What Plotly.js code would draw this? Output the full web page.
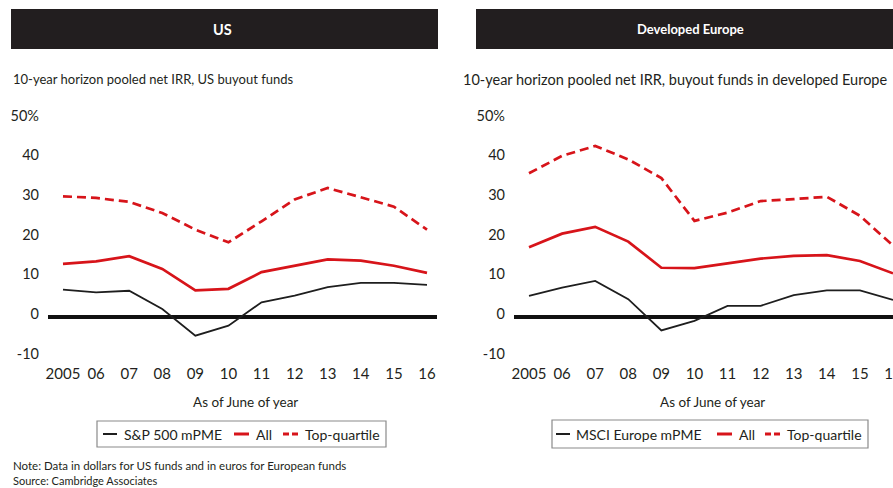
<!DOCTYPE html>
<html>
<head>
<meta charset="utf-8">
<script src="https://cdn.plot.ly/plotly-3.0.1.min.js"></script>
<style>
  html, body { margin: 0; padding: 0; overflow: hidden; background: #fff; }
  #chart { width: 915px; height: 488px; }
</style>
</head>
<body>
<div id="chart"></div>
<script>
// ---- data ----
const years = [2005, 2006, 2007, 2008, 2009, 2010, 2011, 2012, 2013, 2014, 2015, 2016];
const yearLabels = ["2005", "06", "07", "08", "09", "10", "11", "12", "13", "14", "15", "16"];
const yTickVals = [-10, 0, 10, 20, 30, 40, 50];
const yTickText = ["-10", "0", "10", "20", "30", "40", "50%"];

const usMpme = [6.9, 6.2, 6.6, 2.0, -4.7, -2.2, 3.7, 5.4, 7.5, 8.6, 8.6, 8.1];
const usAll  = [13.4, 14.0, 15.3, 12.1, 6.7, 7.1, 11.3, 12.9, 14.5, 14.2, 12.9, 11.1];
const usTop  = [30.4, 30.0, 29.0, 26.2, 22.0, 18.8, 24.1, 29.6, 32.5, 30.1, 27.8, 22.0];

const euMpme = [5.3, 7.4, 9.1, 4.5, -3.4, -1.0, 2.8, 2.8, 5.5, 6.7, 6.7, 4.3];
const euAll  = [17.6, 21.0, 22.7, 19.0, 12.4, 12.3, 13.5, 14.7, 15.4, 15.6, 14.1, 11.0];
const euTop  = [36.2, 40.6, 43.1, 39.7, 35.0, 24.2, 26.3, 29.2, 29.7, 30.3, 25.5, 18.0];

const usSeriesNames = ["S&P 500 mPME", "All", "Top-quartile"];
const euSeriesNames = ["MSCI Europe mPME", "All", "Top-quartile"];

// ---- styling ----
const W = 915, H = 488;
const FONT = "Lato, 'Open Sans', sans-serif";
const INK = "#231f20";
const RED = "#d7141a";
const px = x => x / W;
const py = y => 1 - y / H;

function seriesTraces(xa, ya, mpme, all, top, names) {
  return [
    { x: years, y: mpme, name: names[0], type: "scatter", mode: "lines",
      line: { color: "#1e1e1e", width: 1.8 }, xaxis: xa, yaxis: ya, showlegend: false },
    { x: years, y: all, name: names[1], type: "scatter", mode: "lines",
      line: { color: RED, width: 2.7 }, xaxis: xa, yaxis: ya, showlegend: false },
    { x: years, y: top, name: names[2], type: "scatter", mode: "lines",
      line: { color: RED, width: 2.7, dash: "9px,5px" }, xaxis: xa, yaxis: ya, showlegend: false }
  ];
}

const data = [
  ...seriesTraces("x", "y", usMpme, usAll, usTop, usSeriesNames),
  ...seriesTraces("x2", "y2", euMpme, euAll, euTop, euSeriesNames)
];

const xRange = [2004.547, 2016.302];
const yRange = [-12, 52];
const yDomain = [py(364.6), py(110.6)];

function xAxis(domain, anchor) {
  return {
    domain: domain, range: xRange, anchor: anchor,
    tickvals: years, ticktext: yearLabels,
    showgrid: false, zeroline: false, showline: false, ticks: "",
    ticklabelstandoff: -2,
    tickfont: { family: FONT, size: 15, color: INK }, fixedrange: true
  };
}
function yAxis(anchor) {
  return {
    domain: yDomain, range: yRange, anchor: anchor,
    tickvals: yTickVals, ticktext: yTickText,
    showgrid: false, showline: false, ticks: "",
    zeroline: true, zerolinecolor: "#111", zerolinewidth: 3.5,
    ticklabelstandoff: 8, ticklabelshift: -3,
    tickfont: { family: FONT, size: 14.5, color: INK }, fixedrange: true
  };
}

function legendShapes(box, sym) {
  return [
    { type: "rect", xref: "paper", yref: "paper", x0: px(box[0]), x1: px(box[1]), y0: py(box[3]), y1: py(box[2]),
      line: { color: "#8a8a8a", width: 1.2 }, fillcolor: "rgba(0,0,0,0)" },
    { type: "line", xref: "paper", yref: "paper", x0: px(sym[0]), x1: px(sym[0] + 14), y0: py(434), y1: py(434),
      line: { color: "#1e1e1e", width: 2 } },
    { type: "line", xref: "paper", yref: "paper", x0: px(sym[1]), x1: px(sym[1] + 15), y0: py(434), y1: py(434),
      line: { color: RED, width: 3 } },
    { type: "line", xref: "paper", yref: "paper", x0: px(sym[2]), x1: px(sym[2] + 15), y0: py(434), y1: py(434),
      line: { color: RED, width: 3, dash: "6px,3px" } }
  ];
}

function legendText(names, xs) {
  return names.map((n, i) => ({
    text: n.replace("&", "&amp;"), xref: "paper", yref: "paper", x: px(xs[i]), y: py(434.5),
    xanchor: "left", yanchor: "middle", showarrow: false,
    font: { family: FONT, size: 14, color: INK }
  }));
}

const shapes = [
  { type: "rect", xref: "paper", yref: "paper", x0: px(11), x1: px(438), y0: py(49), y1: py(9),
    fillcolor: "#221e1f", line: { width: 0 } },
  { type: "rect", xref: "paper", yref: "paper", x0: px(476), x1: px(915), y0: py(49), y1: py(9),
    fillcolor: "#221e1f", line: { width: 0 } },
  ...legendShapes([97, 386, 421, 447], [103, 234, 283]),
  ...legendShapes([552, 868, 420, 448], [556, 717, 765])
];

const annotations = [
  { text: "<b>US</b>", xref: "paper", yref: "paper", x: px(222), y: py(29), showarrow: false,
    xanchor: "center", yanchor: "middle", font: { family: FONT, size: 14.5, color: "#ffffff" } },
  { text: "<b>Developed Europe</b>", xref: "paper", yref: "paper", x: px(690), y: py(29), showarrow: false,
    xanchor: "center", yanchor: "middle", font: { family: FONT, size: 13, color: "#ffffff" } },
  { text: "10-year horizon pooled net IRR, US buyout funds", xref: "paper", yref: "paper",
    x: px(11), y: py(79), xanchor: "left", yanchor: "middle", showarrow: false,
    font: { family: FONT, size: 13, color: INK } },
  { text: "10-year horizon pooled net IRR, buyout funds in developed Europe", xref: "paper", yref: "paper",
    x: px(461), y: py(79), xanchor: "left", yanchor: "middle", showarrow: false,
    font: { family: FONT, size: 14.5, color: INK } },
  { text: "As of June of year", xref: "paper", yref: "paper", x: px(245), y: py(402),
    xanchor: "center", yanchor: "middle", showarrow: false, font: { family: FONT, size: 13.5, color: INK } },
  { text: "As of June of year", xref: "paper", yref: "paper", x: px(712), y: py(402),
    xanchor: "center", yanchor: "middle", showarrow: false, font: { family: FONT, size: 13.5, color: INK } },
  ...legendText(usSeriesNames, [122, 254, 303]),
  ...legendText(euSeriesNames, [574, 737, 785]),
  { text: "Note: Data in dollars for US funds and in euros for European funds", xref: "paper", yref: "paper",
    x: px(11), y: py(465), xanchor: "left", yanchor: "middle", showarrow: false,
    font: { family: FONT, size: 11.5, color: INK } },
  { text: "Source: Cambridge Associates", xref: "paper", yref: "paper",
    x: px(11), y: py(480.5), xanchor: "left", yanchor: "middle", showarrow: false,
    font: { family: FONT, size: 11, color: INK } }
];

const layout = {
  width: W, height: H,
  margin: { l: 0, r: 0, t: 0, b: 0 },
  paper_bgcolor: "#ffffff", plot_bgcolor: "#ffffff",
  showlegend: false,
  xaxis: xAxis([px(48), px(437)], "y"),
  yaxis: yAxis("x"),
  xaxis2: xAxis([px(514), px(903)], "y2"),
  yaxis2: yAxis("x2"),
  shapes: shapes,
  annotations: annotations,
  font: { family: FONT, color: INK }
};

Plotly.newPlot("chart", data, layout, { displayModeBar: false, staticPlot: true });
</script>
</body>
</html>
